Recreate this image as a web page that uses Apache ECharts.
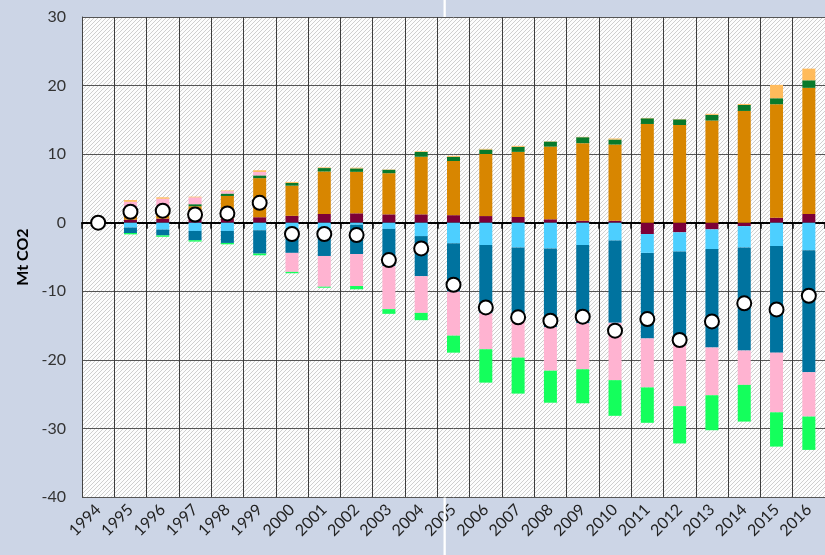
<!DOCTYPE html>
<html>
<head>
<meta charset="utf-8">
<script src="https://cdn.jsdelivr.net/npm/echarts@6/dist/echarts.min.js"></script>
<style>html,body{margin:0;padding:0;background:#ccd5e6;}#c{width:825px;height:555px;}</style>
</head>
<body>
<div id="c"></div>
<script>
var years = ['1994','1995','1996','1997','1998','1999','2000','2001','2002','2003','2004','2005','2006','2007','2008','2009','2010','2011','2012','2013','2014','2015','2016'];
var maroon = [0,0.45,0.6,0.75,0.6,0.8,1.0,1.27,1.37,1.22,1.22,1.1,0.97,0.83,0.5,0.3,0.3,-1.65,-1.4,-0.97,-0.5,0.73,1.27];
var lightBlue = [0,-0.7,-1.0,-1.2,-1.2,-1.1,-1.0,-1.0,-0.3,-0.9,-1.95,-3.0,-3.25,-3.6,-3.75,-3.25,-2.6,-2.75,-2.8,-2.88,-3.1,-3.4,-4.0];
var orange = [0,0.6,0.6,1.65,3.3,5.7,4.4,6.2,6.05,6.0,8.4,7.9,9.05,9.5,10.6,11.3,11.1,14.4,14.25,14.9,16.3,16.55,18.4];
var darkBlue = [0,-0.8,-0.85,-1.35,-1.75,-3.4,-3.4,-3.85,-4.26,-5.4,-5.85,-7.05,-9.95,-9.9,-11.5,-11.42,-12.0,-12.47,-13.65,-14.35,-15.05,-15.55,-17.8];
var darkGreen = [0,0,0,0.3,0.35,0.4,0.4,0.5,0.5,0.5,0.7,0.6,0.65,0.73,0.73,0.87,0.73,0.83,0.83,0.83,0.87,0.87,1.1];
var pink = [0,2.0,2.3,1.0,0.35,0.5,-2.77,-4.48,-4.67,-6.3,-5.35,-6.42,-5.25,-6.17,-6.33,-6.7,-8.36,-7.15,-8.9,-6.96,-5.0,-8.7,-6.47];
var lightOrange = [0,0.25,0.2,0.1,0.1,0.25,0.15,0.1,0.1,0.05,0.1,0.15,0.1,0.15,0.05,0.05,0.15,0.05,0.05,0.15,0.15,1.95,1.7];
var brightGreen = [0,-0.2,-0.2,-0.2,-0.2,-0.25,-0.2,-0.15,-0.48,-0.69,-1.06,-2.48,-4.87,-5.25,-4.67,-4.96,-5.2,-5.16,-5.44,-5.1,-5.35,-5.0,-4.86];
var net = [0,1.6,1.75,1.2,1.35,2.9,-1.65,-1.65,-1.8,-5.45,-3.75,-9.05,-12.35,-13.8,-14.3,-13.7,-15.75,-14.05,-17.1,-14.4,-11.75,-12.65,-10.65];
var yTicks = [-40,-30,-20,-10,0,10,20,30];

var cv = document.createElement('canvas');
cv.width = 4; cv.height = 4;
var cx = cv.getContext('2d');
cx.fillStyle = '#fdfdfd'; cx.fillRect(0,0,4,4);
cx.fillStyle = '#cfcfcf';
for (var px = 0; px < 4; px++) {
  for (var py = 0; py < 4; py++) {
    if ((px + py) % 4 === 3) cx.fillRect(px, py, 1, 1);
  }
}

var FONT = 'Lato';
function barSeries(name, data, color) {
  return {name: name, type: 'bar', stack: 'all', data: data, barWidth: 13, xAxisIndex: 0,
          itemStyle: {color: color}, z: 3};
}
var chart = echarts.init(document.getElementById('c'), null, {renderer: 'canvas'});
chart.setOption({
  animation: false,
  backgroundColor: '#ccd5e6',
  grid: {left: 82, top: 17, bottom: 58, right: -14, show: true, borderWidth: 0,
         backgroundColor: {image: cv, repeat: 'repeat'}},
  xAxis: [
    {type: 'category', data: years, position: 'bottom',
     axisLine: {show: false, onZero: false}, axisTick: {show: false},
     axisLabel: {interval: 0, rotate: 45, fontSize: 16, color: '#222', fontFamily: FONT, margin: 10},
     splitLine: {show: true, interval: 0, lineStyle: {color: '#3c3c3c', width: 1}}},
    {type: 'category', data: years, position: 'top',
     axisLine: {show: true, onZero: true, lineStyle: {color: '#000', width: 2}},
     axisTick: {show: true, inside: true, length: 6, interval: 0, lineStyle: {color: '#000', width: 1.5}},
     axisLabel: {show: false}, splitLine: {show: false}}
  ],
  yAxis: {type: 'value', min: yTicks[0], max: yTicks[yTicks.length-1], interval: 10,
    axisLine: {show: true, lineStyle: {color: '#444'}}, axisTick: {show: false},
    axisLabel: {fontSize: 16, color: '#333', fontFamily: FONT, margin: 16},
    splitLine: {lineStyle: {color: '#555', width: 1}},
    name: 'Mt CO2', nameLocation: 'middle', nameGap: 49, nameRotate: 90,
    nameTextStyle: {fontSize: 16, fontWeight: 'bold', color: '#000', fontFamily: FONT}},
  series: [
    barSeries('maroon', maroon, '#7d0037'),
    barSeries('lightBlue', lightBlue, '#4dcfff'),
    barSeries('orange', orange, '#d88600'),
    barSeries('darkBlue', darkBlue, '#00739f'),
    barSeries('darkGreen', darkGreen, '#087a2b'),
    barSeries('pink', pink, '#ffb3d1'),
    barSeries('lightOrange', lightOrange, '#ffbb5c'),
    barSeries('brightGreen', brightGreen, '#14ff5c'),
    {name: 'net', type: 'scatter', data: net, xAxisIndex: 0, symbol: 'circle', symbolSize: 14, z: 10,
     itemStyle: {color: '#ffffff', borderColor: '#000', borderWidth: 2, opacity: 1}}
  ],
  graphic: [
    {type: 'rect', z: 100, shape: {x: 443.5, y: 0, width: 2.3, height: 17}, style: {fill: '#ffffff'}},
    {type: 'rect', z: 100, shape: {x: 443.5, y: 497.5, width: 2.3, height: 58}, style: {fill: '#ffffff'}}
  ]
});
</script>
</body>
</html>
